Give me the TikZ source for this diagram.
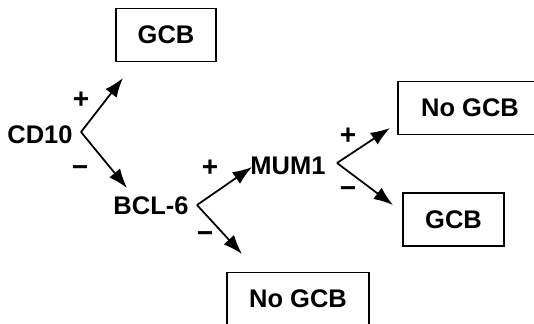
\documentclass[tikz,border=0pt]{standalone}
\usepackage{fontspec}
\setmainfont{Liberation Sans}
\usepackage{tikz}
\usetikzlibrary{arrows.meta, positioning, calc}
\tikzset{
  >=Latex,
  font=\fontsize{14.5}{17}\selectfont\bfseries,
  outbox/.style={
    draw=black, fill=white, line width=0.9pt, inner sep=0pt,
    minimum width=#1, minimum height=1.06cm
  },
  outbox/.default=2cm,
  marker/.style={inner sep=0pt, anchor=center},
  sgn/.style={inner sep=0pt, font=\fontsize{16}{18}\selectfont\bfseries},
  arr/.style={-{Latex[length=11pt,width=8pt]}, line width=1pt, draw=black}
}
\begin{document}
\begin{tikzpicture}[x=0.02cm, y=-0.02cm]
  \useasboundingbox (0,0) rectangle (534,324);
  \clip (0,0) rectangle (534,324);
  % markers
  \node[marker] (cd10) at (40,135) {CD10};
  \node[marker] (bcl6) at (151,206) {BCL-6};
  \node[marker] (mum1) at (288,166) {MUM1};
  % outcomes
  \node[outbox] (gcbA) at (166,35) {GCB};
  \node[outbox=2.02cm] (gcbB) at (453.5,219.5) {GCB};
  \node[outbox=2.88cm] (nogcbA) at (470,108) {No GCB};
  \node[outbox=2.84cm] (nogcbB) at (298,299) {No GCB};
  % branch points and arrow ends
  \coordinate (v1) at (81,132);
  \coordinate (v2) at (197,205);
  \coordinate (v3) at (337,163);
  \coordinate (t1) at (123,78);
  \coordinate (t2) at (127,188);
  \coordinate (t3) at (252,167);
  \coordinate (t4) at (242,254);
  \coordinate (t5) at (390,128);
  \coordinate (t6) at (393,205);
  \foreach \a/\b in {v1/t1, v1/t2, v2/t3, v2/t4, v3/t5, v3/t6} {
    \draw[arr] (\a) -- (\b);
  }
  \foreach \p/\s/\n in {{81,100}/+/p1, {80,171}/−/m1, {210,168}/+/p2,
                        {205,237}/−/m2, {348,136}/+/p3, {348,192}/−/m3} {
    \node[sgn] (\n) at (\p) {\s};
  }
\end{tikzpicture}
\end{document}
